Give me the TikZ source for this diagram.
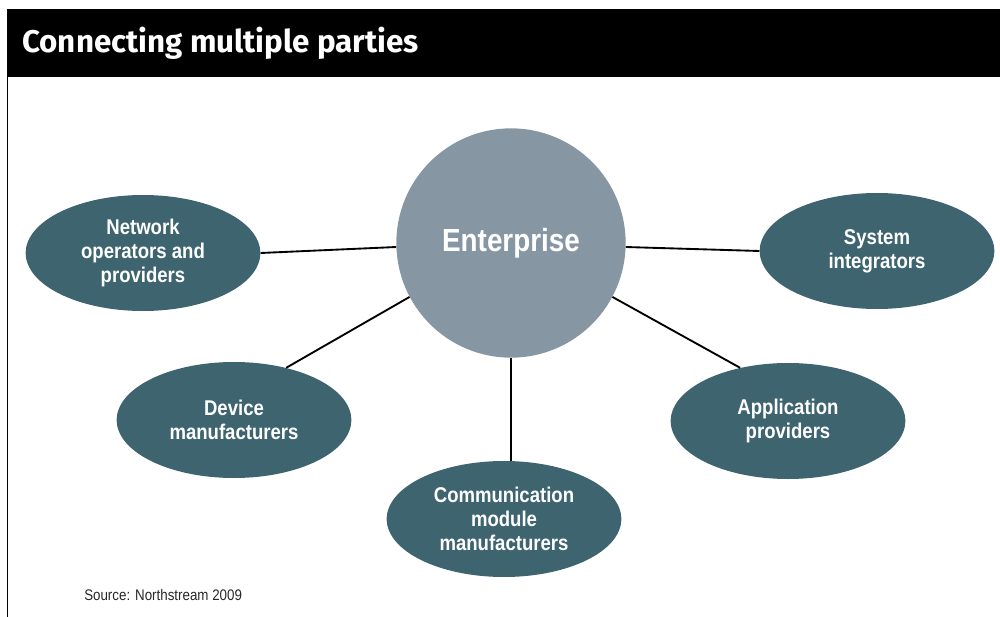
\documentclass[tikz,border=0pt]{standalone}
\usepackage{fontspec}
\setmainfont{Liberation Sans}
\newfontfamily\condfont[FakeStretch=0.87]{Liberation Sans}
\newfontfamily\titlefont{Fira Sans}
\usetikzlibrary{shapes.geometric}

\definecolor{partyteal}{RGB}{62,100,112}
\definecolor{hubgray}{RGB}{134,151,163}

\begin{document}
\begin{tikzpicture}[x=0.75pt,y=0.75pt,yscale=-1,xscale=1,
  party/.style={ellipse, fill=partyteal, inner sep=0pt,
    minimum width=176pt, minimum height=87pt, text=white, align=center,
    font=\condfont\bfseries\fontsize{16}{18}\selectfont},
  hub/.style={circle, fill=hubgray, inner sep=0pt, minimum size=172pt,
    text=white, font=\condfont\bfseries\fontsize{24}{28}\selectfont},
  link/.style={line width=1.4pt}]
\useasboundingbox (0,0) rectangle (1000,617);

% title bar and frame
\fill (7,9) rectangle (1000,77);
\draw[line width=0.75pt] (7,77) -- (7,617);
\node[anchor=west, inner sep=0pt, text=white, font=\titlefont\bfseries\fontsize{23.5}{26}\selectfont] (title) at (22,43) {Connecting multiple parties};

% hub
\node[hub] (enterprise) at (511,243) {Enterprise};

% parties
\node[party] (network) at (143,253) {Network\\operators and\\providers};
\node[party] (integrators) at (877,251) {System\\integrators};
\node[party] (device) at (234,420) {Device\\manufacturers};
\node[party] (application) at (788,421) {Application\\providers};
\node[party] (module) at (504,519) {Communication\\module\\manufacturers};

% links
\draw[link] (enterprise.182) -- (network.0);
\draw[link] (enterprise.358) -- (integrators.180);
\draw[link] (enterprise.208) -- (device.45);
\draw[link] (enterprise.332) -- (application.132);
\draw[link] (enterprise.south) -- (enterprise.south |- module.north);

% source note
\node[anchor=west, inner sep=0pt, font=\condfont\fontsize{11.5}{14}\selectfont, text=black!85] (source) at (84,595) {Source: Northstream 2009};
\end{tikzpicture}
\end{document}
